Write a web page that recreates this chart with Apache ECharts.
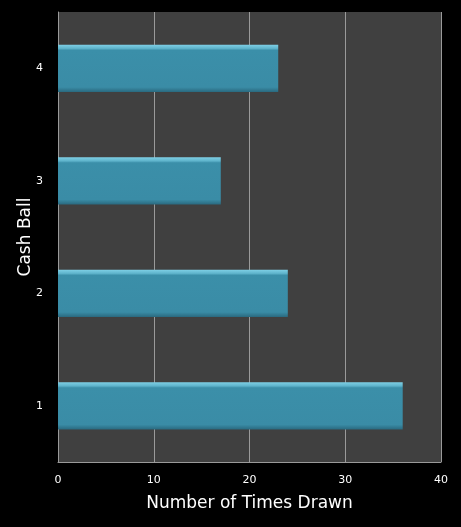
<!DOCTYPE html>
<html>
<head>
<meta charset="utf-8">
<script src="https://cdn.jsdelivr.net/npm/echarts@6/dist/echarts.min.js"></script>
<style>
html, body { margin: 0; padding: 0; background: #000; }
#chart { width: 461px; height: 527px; }
</style>
</head>
<body>
<div id="chart"></div>
<script>
var categories = ['1', '2', '3', '4'];
var timesDrawn = [36, 24, 17, 23];
var xTicks = [0, 10, 20, 30, 40];

var chart = echarts.init(document.getElementById('chart'));

var option = {
	backgroundColor: '#000000',
	textStyle: { fontFamily: 'DejaVu Sans' },
	grid: {
		left: 58, right: 20, top: 12, bottom: 65,
		show: true,
		backgroundColor: '#404040',
		borderWidth: 0
	},
	xAxis: {
		type: 'value',
		min: xTicks[0],
		max: xTicks[xTicks.length - 1],
		interval: 10,
		name: 'Number of Times Drawn',
		nameLocation: 'middle',
		nameGap: 33,
		nameMoveOverlap: false,
		nameTextStyle: { color: '#ffffff', fontSize: 17 },
		axisLine: { show: true, lineStyle: { color: '#9a9a9a', width: 1 } },
		axisTick: { show: false },
		axisLabel: { color: '#ffffff', fontSize: 11, margin: 13 },
		splitLine: { show: true, lineStyle: { color: '#9a9a9a', width: 1 } }
	},
	yAxis: {
		type: 'category',
		data: categories,
		name: 'Cash Ball',
		nameLocation: 'middle',
		nameGap: 24,
		nameMoveOverlap: false,
		nameTextStyle: { color: '#ffffff', fontSize: 17 },
		axisLine: { show: true, lineStyle: { color: '#9a9a9a', width: 1 } },
		axisTick: { show: false },
		axisLabel: { color: '#ffffff', fontSize: 11, margin: 15 },
		splitLine: { show: false }
	},
	series: [{
		type: 'bar',
		data: timesDrawn,
		barWidth: '42%',
		itemStyle: {
			color: new echarts.graphic.LinearGradient(0, 0, 0, 1, [
				{ offset: 0, color: '#7fd0e6' },
				{ offset: 0.08, color: '#5fb4cc' },
				{ offset: 0.12, color: '#3b8fa9' },
				{ offset: 0.9, color: '#3a8ca6' },
				{ offset: 1, color: '#2a6a80' }
			]),
			borderWidth: 0,
			shadowColor: 'rgba(0,0,0,0.5)',
			shadowBlur: 3,
			shadowOffsetX: 1,
			shadowOffsetY: 1
		}
	}]
};

chart.setOption(option, true);
</script>
</body>
</html>
